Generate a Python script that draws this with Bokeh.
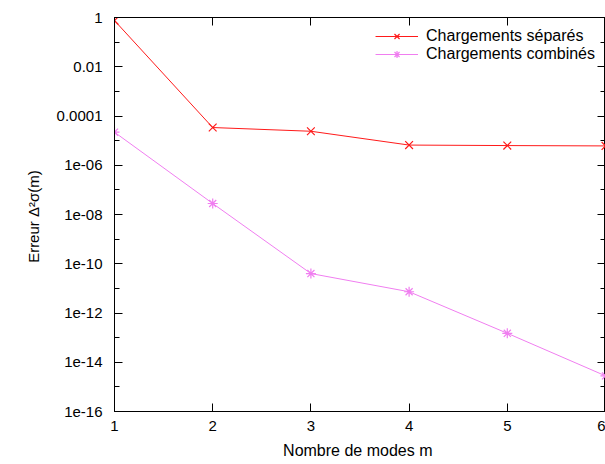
from bokeh.plotting import figure
from bokeh.models import (Range1d, FixedTicker, CustomJSTickFormatter, LogAxis, LinearAxis,
                          Legend, LegendItem)
from bokeh.embed import file_html
from bokeh.resources import INLINE

# ---- data ----
modes = [1, 2, 3, 4, 5, 6]
err_separes = [0.75, 3.4e-5, 2.4e-5, 6.6e-6, 6.3e-6, 6.1e-6]
err_combines = [2.2e-5, 2.8e-8, 4.0e-11, 7.3e-12, 1.5e-13, 2.8e-15]
y_ticks = [1, 1e-2, 1e-4, 1e-6, 1e-8, 1e-10, 1e-12, 1e-14, 1e-16]
y_tick_labels = ["1", "0.01", "0.0001", "1e-06", "1e-08", "1e-10", "1e-12", "1e-14", "1e-16"]
y_minor = [1e-1, 1e-3, 1e-5, 1e-7, 1e-9, 1e-11, 1e-13, 1e-15]
x_ticks = [1, 2, 3, 4, 5, 6]
name_sep = "Chargements séparés"
name_comb = "Chargements combinés"
x_title = "Nombre de modes  m"
y_title = "Erreur  Δ²σ(m)"

RED = "#ff1a1a"
PINK = "#f07ef0"
SANS = "Liberation Sans"

W, H = 605, 464
p = figure(width=W, height=H, output_backend="svg", toolbar_location=None,
           x_range=Range1d(1, 6), y_range=Range1d(1e-16, 1), y_axis_type="log",
           min_border_left=114, min_border_right=0, min_border_top=17, min_border_bottom=53)
p.outline_line_color = "black"
p.outline_line_width = 1
p.xgrid.visible = False
p.ygrid.visible = False

yt = FixedTicker(ticks=y_ticks, minor_ticks=y_minor)
xt = FixedTicker(ticks=x_ticks, minor_ticks=[])
yfmt = CustomJSTickFormatter(args=dict(yvals=y_ticks, ylabels=y_tick_labels), code="""
const i = yvals.findIndex(t => Math.abs(Math.log10(t) - Math.log10(tick)) < 1e-6);
return i >= 0 ? ylabels[i] : "";
""")
blank = CustomJSTickFormatter(code="return '';")

def style_axis(ax):
    ax.axis_line_color = "black"
    ax.axis_line_width = 1
    ax.major_tick_in = 8
    ax.major_tick_out = 0
    ax.minor_tick_in = 5
    ax.minor_tick_out = 0
    ax.major_tick_line_color = "black"
    ax.minor_tick_line_color = "black"
    ax.major_label_text_font = SANS
    ax.major_label_text_font_size = "15px"
    ax.major_label_text_color = "black"

ya = p.yaxis[0]
xa = p.xaxis[0]
ya.ticker = yt
ya.formatter = yfmt
style_axis(ya)
ya.major_label_standoff = 12
ya.axis_label = y_title
ya.axis_label_text_font = SANS
ya.axis_label_text_font_style = "normal"
ya.axis_label_text_font_size = "15px"
ya.axis_label_text_color = "black"
ya.axis_label_standoff = 12

xa.ticker = xt
style_axis(xa)
xa.major_label_standoff = 9
xa.axis_label = x_title
xa.axis_label_text_font = SANS
xa.axis_label_text_font_style = "normal"
xa.axis_label_text_font_size = "16px"
xa.axis_label_text_color = "black"
xa.axis_label_standoff = 8

ra = LogAxis(ticker=yt, formatter=blank)
style_axis(ra)
ra.major_label_standoff = 0
p.add_layout(ra, "right")
ta = LinearAxis(ticker=xt, formatter=blank)
style_axis(ta)
ta.major_label_standoff = 0
p.add_layout(ta, "above")

# ---- series ----
l1 = p.line(modes, err_separes, line_color=RED, line_width=1)
s1 = p.scatter(modes, err_separes, marker="x", size=11, line_color=RED, line_width=1.2)
l2 = p.line(modes, err_combines, line_color=PINK, line_width=1)
s2 = p.scatter(modes, err_combines, marker="asterisk", size=10, line_color=PINK, line_width=1.2)

leg = Legend(items=[LegendItem(label=name_sep, renderers=[l1, s1]),
                    LegendItem(label=name_comb, renderers=[l2, s2])],
             location="top_right", padding=2, margin=8, spacing=0,
             glyph_width=43, glyph_height=18, label_height=18, label_standoff=8,
             border_line_alpha=0, background_fill_alpha=0,
             label_text_font=SANS, label_text_font_size="16px", label_text_color="black")
p.add_layout(leg)

open("out.html", "w").write(file_html(p, INLINE))
